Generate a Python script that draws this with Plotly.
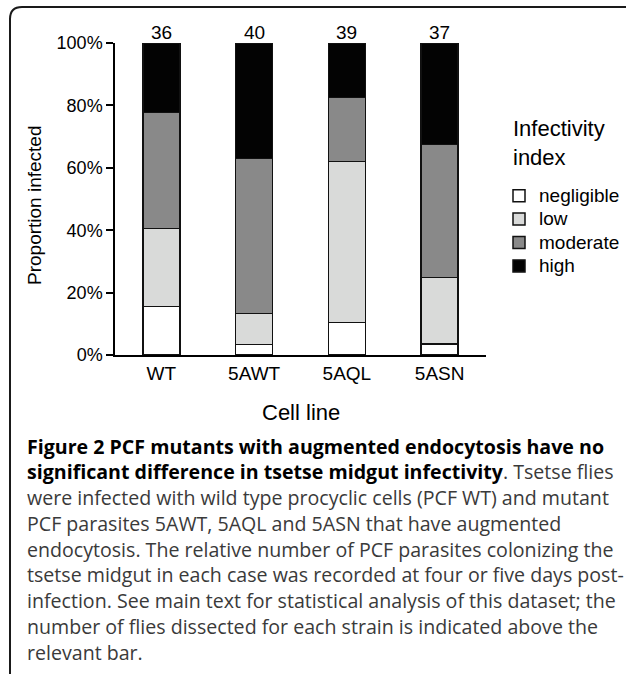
import plotly.graph_objects as go

# ---- data ----
cell_lines = ["WT", "5AWT", "5AQL", "5ASN"]
n_flies = [36, 40, 39, 37]
negligible = [15.6, 3.3, 10.4, 3.6]
low = [24.9, 10.0, 51.6, 21.3]
moderate = [37.2, 49.7, 20.5, 42.6]
high = [22.3, 37.0, 17.5, 32.5]
y_ticks = [0, 20, 40, 60, 80, 100]
y_tick_labels = ["0%", "20%", "40%", "60%", "80%", "100%"]

series = [
    ("negligible", negligible, "#ffffff"),
    ("low", low, "#d9dad9"),
    ("moderate", moderate, "#898989"),
    ("high", high, "#030303"),
]

W, H = 627, 676
L, R, T, B = 115, 141, 43, 321
PW, PH = W - L - R, H - T - B
FONT = "Liberation Sans, Arial, sans-serif"


def px(x):
    return (x - L) / PW


def py(y):
    return (H - B - y) / PH


fig = go.Figure()
for name, vals, col in series:
    fig.add_trace(go.Bar(
        x=cell_lines, y=vals,
        name=f'<span style="font-size:19px">{name}</span>',
        width=0.4,
        marker=dict(color=col, line=dict(color="#111111", width=1.5)),
    ))

for cl, n in zip(cell_lines, n_flies):
    fig.add_annotation(x=cl, y=100, text=str(n), showarrow=False,
                       xanchor="center", yanchor="bottom", yshift=-2,
                       font=dict(family=FONT, size=19, color="#000"))

fig.add_annotation(xref="paper", yref="paper", x=px(35), y=py(205), text="Proportion infected",
                   textangle=-90, showarrow=False, xanchor="center", yanchor="middle",
                   font=dict(family=FONT, size=19, color="#000"))
fig.add_annotation(xref="paper", yref="paper", x=px(301), y=py(412.7), text="Cell line",
                   showarrow=False, xanchor="center", yanchor="middle",
                   font=dict(family=FONT, size=22, color="#000"))
fig.add_annotation(xref="paper", yref="paper", x=px(511), y=py(142.5), text="Infectivity<br>index",
                   showarrow=False, xanchor="left", yanchor="middle", align="left",
                   font=dict(family=FONT, size=22, color="#000"))

BOLD = '<b><span style="color:#000000">{}</span></b>'
caption = [
    BOLD.format("Figure 2 PCF mutants with augmented endocytosis have no"),
    BOLD.format("significant difference in tsetse midgut infectivity") + ". Tsetse flies",
    "were infected with wild type procyclic cells (PCF WT) and mutant",
    "PCF parasites 5AWT, 5AQL and 5ASN that have augmented",
    "endocytosis. The relative number of PCF parasites colonizing the",
    "tsetse midgut in each case was recorded at four or five days post-",
    "infection. See main text for statistical analysis of this dataset; the",
    "number of flies dissected for each strain is indicated above the",
    "relevant bar.",
]
for i, line in enumerate(caption):
    fig.add_annotation(xref="paper", yref="paper", x=px(25), y=py(446 + 25.75 * i),
                       text=line, showarrow=False, xanchor="left", yanchor="middle",
                       font=dict(family="Open Sans", size=19.6, color="#3a3a3a"))

# frame (bracket-like rounded border)
r = 12
frame = (f"M {px(10)},{py(674)} L {px(10)},{py(7 + r)} "
         f"Q {px(10)},{py(7)} {px(10 + r)},{py(7)} L {px(626)},{py(7)}")
fig.add_shape(type="path", xref="paper", yref="paper", path=frame,
              line=dict(color="#1a1a1a", width=2))

fig.update_layout(
    width=W, height=H,
    margin=dict(l=L, r=R, t=T, b=B, autoexpand=False),
    barmode="stack",
    plot_bgcolor="white", paper_bgcolor="white",
    font=dict(family=FONT, color="#000"),
    showlegend=True,
    legend=dict(x=px(499), y=py(179), xanchor="left", yanchor="top",
                traceorder="normal", font=dict(size=15.7, family=FONT),
                itemwidth=30, bgcolor="rgba(0,0,0,0)"),
    xaxis=dict(showline=True, linecolor="#000", linewidth=1.5, ticks="",
               range=[-0.5, 3.5], tickfont=dict(size=19), showgrid=False,
               zeroline=False),
    yaxis=dict(showline=True, linecolor="#000", linewidth=1.5, ticks="outside",
               ticklen=7, tickwidth=1.5, tickcolor="#000", range=[0, 100],
               tickmode="array", tickvals=y_ticks, ticktext=y_tick_labels,
               tickfont=dict(size=18), showgrid=False, zeroline=False),
)

fig.write_html("out.html", config={"displayModeBar": False},
               post_script="document.body.style.margin='0px';")
